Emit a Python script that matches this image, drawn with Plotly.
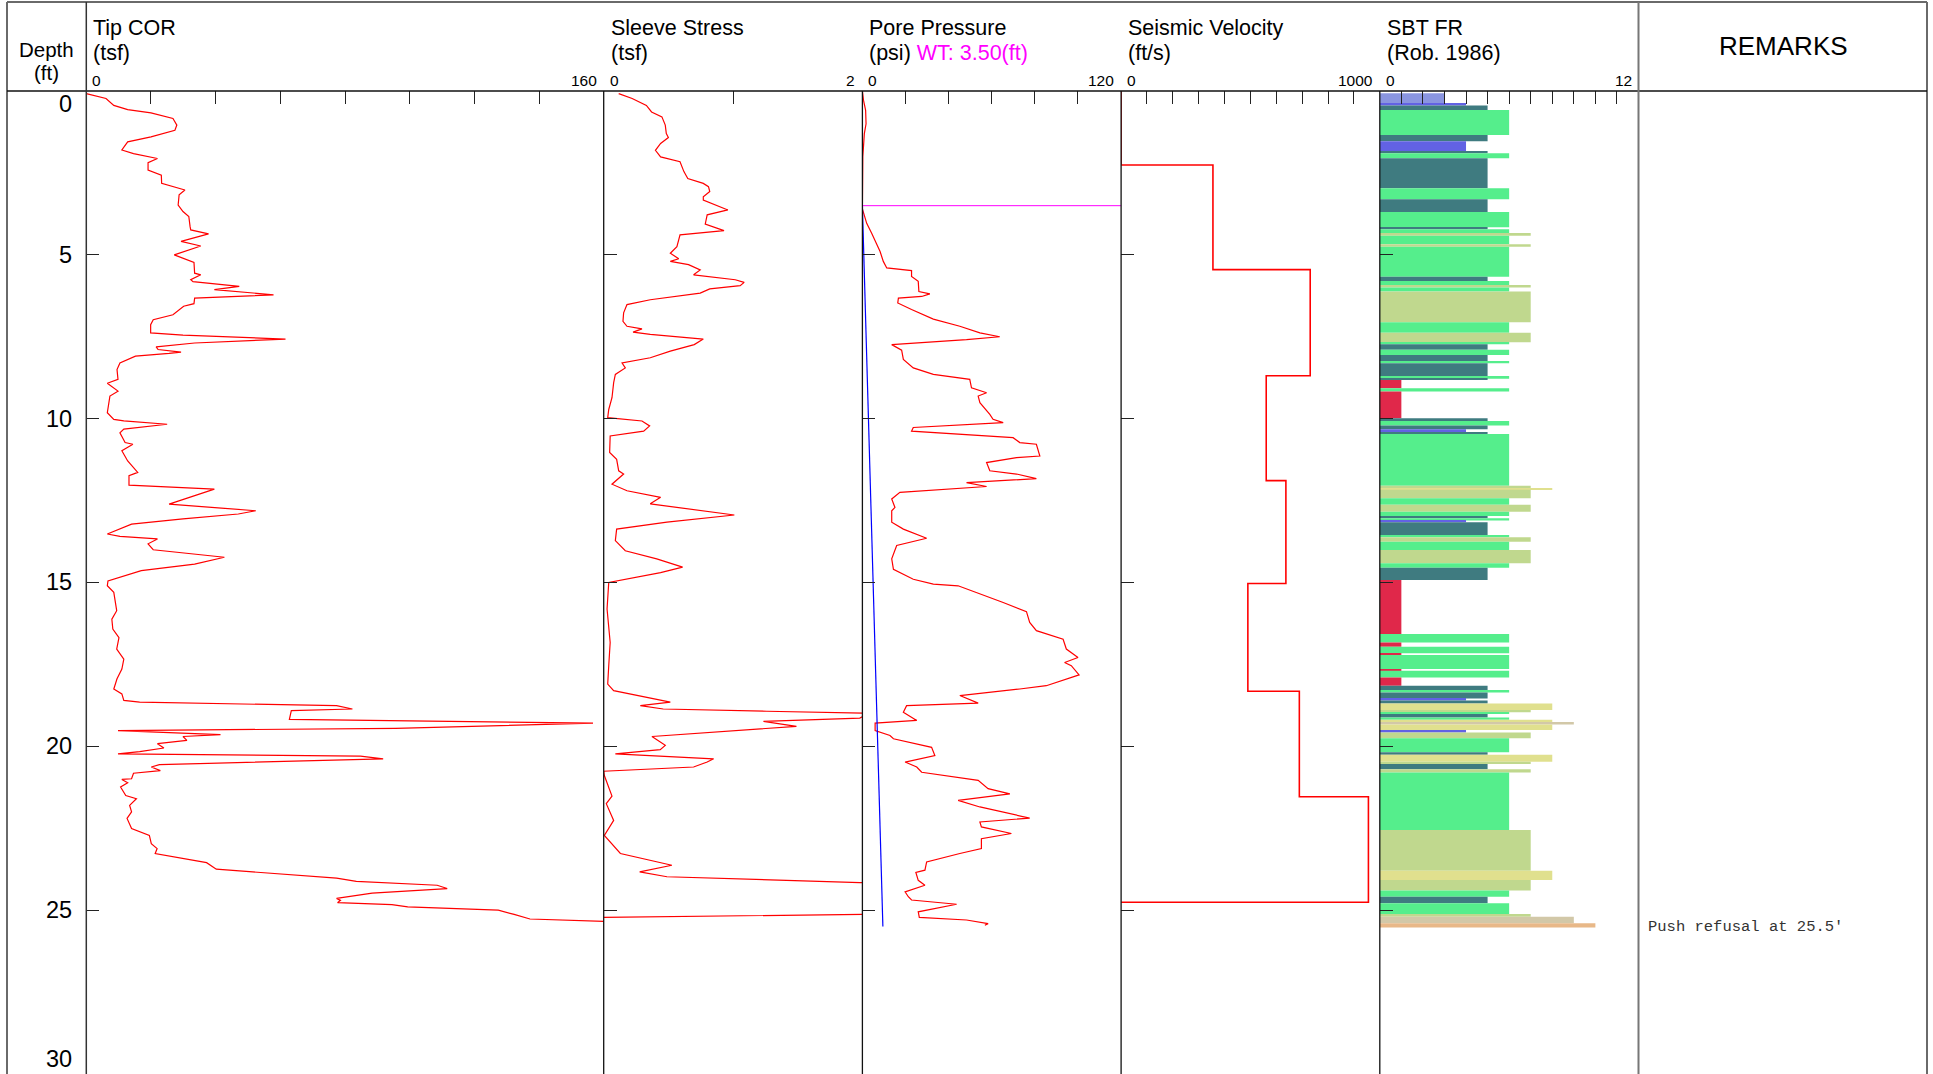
import plotly.graph_objects as go

# ---------------- CPT sounding data ----------------
depth_ticks = [0, 5, 10, 15, 20, 25, 30]

# Corrected tip resistance (tsf)
tip_depth = [0.08, 0.23, 0.44, 0.57, 0.67, 0.84, 1.04, 1.20, 1.40, 1.55, 1.80, 1.91, 2.06, 2.19, 2.41,
             2.57, 2.82, 3.02, 3.17, 3.48, 3.68, 3.83, 4.14, 4.24, 4.36, 4.59, 4.73, 5.00, 5.23, 5.56,
             5.61, 5.76, 5.82, 5.91, 5.96, 6.06, 6.22, 6.32, 6.49, 6.57, 6.83, 6.98, 7.13, 7.38, 7.45,
             7.57, 7.69, 7.81, 7.89, 7.97, 8.01, 8.09, 8.30, 8.50, 8.80, 8.92, 9.16, 9.31, 9.82, 10.02,
             10.07, 10.17, 10.32, 10.43, 10.73, 10.78, 10.98, 11.29, 11.64, 11.74, 12.03, 12.15, 12.61,
             12.81, 12.91, 13.06, 13.22, 13.52, 13.59, 13.67, 13.82, 14.00, 14.23, 14.44, 14.64, 14.95,
             15.10, 15.30, 15.86, 16.12, 16.42, 16.68, 17.03, 17.34, 17.64, 17.94, 18.25, 18.40, 18.60,
             18.65, 18.76, 18.86, 18.91, 19.18, 19.24, 19.29, 19.45, 19.52, 19.64, 19.70, 19.82, 19.92,
             20.05, 20.16, 20.23, 20.30, 20.38, 20.56, 20.63, 20.74, 20.82, 20.99, 21.01, 21.11, 21.24,
             21.50, 21.60, 21.80, 22.00, 22.20, 22.51, 22.72, 22.97, 23.12, 23.27, 23.55, 23.75, 24.02,
             24.12, 24.24, 24.34, 24.48, 24.64, 24.70, 24.77, 24.83, 24.90, 25.00, 25.13, 25.27, 25.36]
tip_qc = [0.0, 6.1, 8.5, 12.8, 20.0, 26.8, 28.0, 27.4, 20.0, 12.8, 11.0, 14.6, 22.0, 19.1, 19.1,
          23.2, 23.3, 30.5, 28.7, 28.4, 29.9, 31.7, 32.1, 32.3, 37.8, 29.3, 35.4, 27.2, 33.3, 33.5,
          35.4, 32.3, 33.0, 43.9, 47.3, 39.6, 57.9, 33.5, 33.3, 30.1, 26.8, 20.7, 19.9, 19.9, 29.9,
          61.6, 33.5, 21.6, 22.2, 29.3, 25.6, 15.2, 10.4, 9.5, 9.8, 6.5, 9.8, 7.3, 6.5, 8.5,
          11.6, 25.0, 11.6, 10.4, 12.0, 14.4, 11.0, 12.8, 15.9, 13.2, 13.2, 39.6, 25.6,
          52.4, 47.0, 29.9, 14.0, 6.5, 10.4, 22.0, 19.1, 20.7, 42.7, 33.5, 17.0, 6.7,
          6.5, 8.5, 9.4, 7.9, 8.2, 10.1, 9.4, 11.6, 11.0, 9.5, 8.5, 11.0, 11.6,
          16.5, 77.4, 82.3, 63.4, 62.8, 125.6, 156.7, 95.7, 9.8, 41.5, 29.9, 31.1, 22.0,
          24.0, 16.5, 9.8, 84.8, 91.8, 22.6, 20.1, 22.9, 14.6, 14.0, 11.0, 12.8, 10.6,
          12.2, 15.5, 13.4, 14.0, 12.6, 14.0, 19.5, 20.1, 21.9, 21.3, 37.2, 40.2, 77.4,
          83.5, 108.5, 111.6, 88.4, 77.4, 78.6, 77.7, 94.5, 99.4, 127.4, 132.3, 137.2, 165.0]

# Sleeve friction (tsf)
fs_depth = [0.08, 0.23, 0.44, 0.64, 0.79, 1.04, 1.30, 1.42, 1.60, 1.81, 2.01, 2.16, 2.46, 2.67, 2.82,
            2.92, 3.07, 3.23, 3.33, 3.63, 3.78, 4.06, 4.26, 4.39, 4.75, 4.95, 5.12, 5.20, 5.30, 5.46,
            5.61, 5.76, 5.84, 5.94, 6.04, 6.17, 6.37, 6.52, 6.77, 7.03, 7.18, 7.26, 7.36, 7.43, 7.57,
            7.74, 7.94, 8.14, 8.30, 8.45, 8.65, 8.90, 9.36, 9.72, 9.97, 10.07, 10.22, 10.38, 10.53,
            11.03, 11.24, 11.59, 11.69, 12.00, 12.20, 12.40, 12.60, 12.76, 12.94, 13.16, 13.37, 13.72,
            14.03, 14.28, 14.53, 14.70, 15.00, 15.81, 16.83, 17.54, 18.10, 18.30, 18.45, 18.65, 18.76,
            18.86, 18.93, 18.99, 19.14, 19.24, 19.39, 19.52, 19.70, 19.97, 20.10, 20.23, 20.38, 20.48,
            20.63, 20.76, 20.89, 21.52, 21.75, 22.26, 22.72, 23.27, 23.63, 23.83, 23.98, 24.16, 24.22,
            25.10, 25.22]
fs_tsf = [0.116, 0.22, 0.33, 0.37, 0.45, 0.476, 0.484, 0.50, 0.44, 0.40, 0.44, 0.59, 0.62, 0.65, 0.77,
          0.81, 0.82, 0.77, 0.77, 0.96, 0.80, 0.785, 0.93, 0.59, 0.566, 0.515, 0.58, 0.515, 0.656, 0.746,
          0.695, 1.017, 1.086, 1.055, 0.82, 0.746, 0.36, 0.18, 0.154, 0.149, 0.18, 0.296, 0.227, 0.36, 0.77,
          0.70, 0.515, 0.36, 0.142, 0.167, 0.09, 0.077, 0.064, 0.039, 0.031, 0.296, 0.355, 0.309, 0.05,
          0.046, 0.10, 0.116, 0.154, 0.064, 0.18, 0.44, 0.36, 0.67, 1.01, 0.489, 0.10, 0.09,
          0.167, 0.41, 0.61, 0.44, 0.039, 0.026, 0.05, 0.039, 0.031, 0.077, 0.27, 0.515, 0.283,
          0.46, 1.26, 2.05, 1.98, 1.235, 1.49, 1.0, 0.373, 0.476, 0.437, 0.09, 0.85, 0.80,
          0.695, 0.0, 0.005, 0.064, 0.02, 0.077, 0.005, 0.129, 0.527, 0.278, 0.489, 1.98, 2.6,
          2.6, 0.0]

# Pore pressure u2 (psi)
u_depth = [0.00, 0.28, 0.59, 1.00, 1.30, 1.60, 2.00, 3.60, 3.73, 4.04, 4.34, 4.65, 4.90, 5.20, 5.40,
           5.48, 5.66, 5.81, 6.12, 6.19, 6.27, 6.32, 6.47, 6.67, 6.96, 7.18, 7.38, 7.50, 7.59, 7.74,
           7.91, 8.19, 8.45, 8.65, 8.80, 9.06, 9.21, 9.31, 9.51, 9.87, 10.02, 10.12, 10.27, 10.38,
           10.58, 10.73, 10.78, 11.14, 11.19, 11.34, 11.59, 11.69, 11.83, 11.95, 12.07, 12.25, 12.45,
           12.71, 12.81, 13.16, 13.37, 13.65, 13.87, 14.28, 14.60, 14.90, 15.05, 15.10, 15.30, 15.61,
           15.89, 16.22, 16.47, 16.73, 17.03, 17.29, 17.44, 17.54, 17.82, 18.15, 18.25, 18.45, 18.68,
           18.76, 18.96, 19.21, 19.29, 19.52, 19.67, 19.77, 20.03, 20.28, 20.48, 20.63, 20.79, 21.04,
           21.29, 21.45, 21.65, 21.85, 22.19, 22.31, 22.46, 22.66, 22.82, 23.12, 23.27, 23.53, 23.78,
           23.85, 24.09, 24.24, 24.44, 24.59, 24.69, 24.82, 25.05, 25.22, 25.30, 25.41, 25.46]
u_psi = [0.0, 0.5, 1.5, 1.7, 0.9, 0.5, 0.2, 0.0, 0.5, 2.0, 4.3, 6.6, 8.2, 9.7, 11.3,
         22.8, 22.8, 25.9, 26.2, 31.3, 27.5, 16.7, 16.4, 22.8, 32.9, 45.2, 54.5, 63.7, 48.3, 13.6,
         18.2, 19.0, 23.6, 32.9, 49.8, 50.6, 57.6, 53.7, 54.5, 59.1, 60.6, 65.3, 23.6, 22.8,
         69.9, 73.0, 80.7, 82.3, 71.5, 57.6, 59.1, 71.5, 80.7, 48.3, 57.6, 17.4, 13.6,
         15.1, 13.6, 13.6, 19.0, 29.8, 15.9, 13.6, 14.4, 23.6, 32.9, 44.4, 52.9, 65.3,
         76.1, 77.6, 80.7, 93.1, 94.6, 100.0, 93.8, 96.9, 100.5, 85.3, 73.0, 45.2, 53.7,
         20.5, 19.0, 25.2, 5.9, 5.9, 12.8, 14.4, 32.1, 33.6, 19.8, 25.2, 27.5, 53.7,
         58.3, 68.4, 44.4, 54.5, 77.6, 54.5, 55.2, 69.1, 55.2, 55.2, 45.2, 29.8, 29.0,
         24.8, 25.9, 29.0, 19.8, 21.3, 22.8, 43.7, 25.9, 26.4, 48.3, 58.3, 56.8]

# Hydrostatic pressure line and water table
u0_depth = [3.5, 25.5]
u0_psi = [0.0, 9.5]
water_table = 3.5

# Seismic velocity intervals (ft/s)
vs_top = [0.0, 2.26, 5.45, 8.69, 11.89, 15.03, 18.32, 21.54]
vs_bottom = [2.26, 5.45, 8.69, 11.89, 15.03, 18.32, 21.54, 24.76]
vs_fts = [0, 355, 731, 561, 637, 490, 689, 956]

# Soil behaviour type (Robertson 1986) layers: top depth and zone, last bottom
sbt_top = [0.07, 0.38, 0.44, 0.58, 1.34, 1.53, 1.85, 1.90, 2.05, 2.97, 3.30, 3.69, 4.16, 4.22,
           4.36, 4.42, 4.68, 4.75, 5.67, 5.80, 5.92, 6.00, 6.12, 7.06, 7.38, 7.67, 7.73, 7.90,
           8.06, 8.24, 8.31, 8.70, 8.78, 8.82, 9.07, 9.17, 9.99, 10.07, 10.21, 10.32, 10.41, 10.47,
           12.05, 12.12, 12.17, 12.43, 12.63, 12.84, 12.97, 13.04, 13.11, 13.16, 13.55, 13.62,
           13.76, 14.01, 14.41, 14.55, 14.92, 16.57, 16.83, 16.96, 17.16, 17.21, 17.64, 17.69,
           17.90, 18.15, 18.28, 18.36, 18.54, 18.60, 18.69, 18.89, 18.96, 19.01, 19.12, 19.19,
           19.27, 19.33, 19.50, 19.58, 19.75, 20.18, 20.26, 20.47, 20.54, 20.70, 20.80, 22.55,
           23.80, 24.08, 24.40, 24.59, 24.79, 25.12, 25.20, 25.40]
sbt_zone = [3, 4, 5, 6, 5, 4, 5, 6, 5, 6, 5, 6, 5, 6,
            7, 6, 7, 6, 5, 6, 7, 6, 7, 6, 7, 6, 5, 6,
            5, 6, 5, 6, 5, 1, 6, 1, 5, 6, 5, 4, 5, 6,
            7, 8, 7, 6, 7, 6, 5, 6, 4, 5, 6, 7,
            6, 7, 6, 5, 1, 6, 1, 6, 1, 6, 1, 6,
            1, 5, 6, 5, 4, 5, 8, 7, 6, 5, 6, 8,
            9, 8, 4, 7, 6, 5, 8, 7, 5, 7, 6, 7,
            8, 7, 6, 5, 6, 7, 9, 10]
sbt_end = 25.53

zone_colors = {1: "#E0284A", 3: "#8A95E0", 4: "#6262E4", 5: "#3F7B80", 6: "#55EE8C",
               7: "#C0D88E", 8: "#E0E08E", 9: "#D2C8A8", 10: "#E8B888"}

remark_depth = 25.5
remark_text = "Push refusal at 25.5'"

# ---------------- layout geometry ----------------
W, H = 1933, 1074
HEADER_Y = 91
panel_left = [86.3, 603.7, 862.4, 1121.1, 1379.8]
panel_right = [603.7, 862.4, 1121.1, 1379.8, 1638.5]
panel_range = [[0, 160], [0, 2], [0, 120], [0, 1000], [0, 12]]
panel_xticks = [[20, 40, 60, 80, 100, 120, 140], [1], [20, 40, 60, 80, 100],
                [100, 200, 300, 400, 500, 600, 700, 800, 900], list(range(1, 12))]
panel_title = ["Tip COR", "Sleeve Stress", "Pore Pressure", "Seismic Velocity", "SBT FR"]
panel_unit = ["(tsf)", "(tsf)",
              "(psi) <span style='color:#FF00FF'>WT: 3.50(ft)</span>",
              "(ft/s)", "(Rob. 1986)"]
range_text = [["0", "160"], ["0", "2"], ["0", "120"], ["0", "1000"], ["0", "12"]]


def fx(x):
    return x / W


def fy(y):
    return 1 - y / H


FONT = "Liberation Sans, Arial, sans-serif"
fig = go.Figure()

RED = "#FF0000"
fig.add_trace(go.Scatter(x=tip_qc, y=tip_depth, mode="lines",
                         line=dict(color=RED, width=1.2), xaxis="x", yaxis="y"))
fig.add_trace(go.Scatter(x=fs_tsf, y=fs_depth, mode="lines",
                         line=dict(color=RED, width=1.2), xaxis="x2", yaxis="y2"))
fig.add_trace(go.Scatter(x=u_psi, y=u_depth, mode="lines",
                         line=dict(color=RED, width=1.2), xaxis="x3", yaxis="y3"))
fig.add_trace(go.Scatter(x=u0_psi, y=u0_depth, mode="lines",
                         line=dict(color="#0000FF", width=1.2), xaxis="x3", yaxis="y3"))
fig.add_trace(go.Scatter(x=list(panel_range[2]), y=[water_table, water_table], mode="lines",
                         line=dict(color="#FF00FF", width=1), xaxis="x3", yaxis="y3"))

# step profile for seismic velocity
vs_x, vs_y = [], []
for t, b, v in zip(vs_top, vs_bottom, vs_fts):
    vs_x += [v, v]
    vs_y += [t, b]
vs_x.append(0)
vs_y.append(vs_bottom[-1])
fig.add_trace(go.Scatter(x=vs_x, y=vs_y, mode="lines",
                         line=dict(color=RED, width=1.6), xaxis="x4", yaxis="y4"))

# SBT bars
sbt_bot = sbt_top[1:] + [sbt_end]
fig.add_trace(go.Bar(orientation="h",
                     x=sbt_zone,
                     y=[(t + b) / 2 for t, b in zip(sbt_top, sbt_bot)],
                     width=[b - t for t, b in zip(sbt_top, sbt_bot)],
                     base=0,
                     marker=dict(color=[zone_colors[z] for z in sbt_zone], line=dict(width=0)),
                     xaxis="x5", yaxis="y5"))

layout = dict(width=W, height=H, margin=dict(l=0, r=0, t=0, b=0),
              paper_bgcolor="white", plot_bgcolor="white", showlegend=False,
              font=dict(family=FONT, color="black"))

ydom = [0, fy(HEADER_Y)]
for i in range(5):
    k = "" if i == 0 else str(i + 1)
    layout["xaxis" + k] = dict(domain=[fx(panel_left[i]), fx(panel_right[i])],
                               range=panel_range[i], side="top", anchor="y" + k,
                               ticks="inside", ticklen=13, tickcolor="#222", tickwidth=1,
                               tickvals=panel_xticks[i], showticklabels=False,
                               showgrid=False, zeroline=False, showline=False, fixedrange=True)
    layout["yaxis" + k] = dict(domain=ydom, range=[30, 0], anchor="x" + k,
                               ticks="inside", ticklen=13, tickcolor="#222", tickwidth=1,
                               tickvals=depth_ticks[1:-1], showticklabels=False,
                               showgrid=False, zeroline=False, showline=False, fixedrange=True)
    if i > 0:
        layout["yaxis" + k]["matches"] = "y"

shapes = []
LINE = dict(color="#111", width=1.3)
GREY = dict(color="#6a6a6a", width=2)
# outer frame
shapes.append(dict(type="line", xref="paper", yref="paper", x0=fx(7), x1=fx(7), y0=fy(2), y1=0, line=GREY))
shapes.append(dict(type="line", xref="paper", yref="paper", x0=fx(7), x1=fx(1927), y0=fy(2), y1=fy(2), line=GREY))
shapes.append(dict(type="line", xref="paper", yref="paper", x0=fx(1927), x1=fx(1927), y0=fy(2), y1=0, line=GREY))
# header separator
shapes.append(dict(type="line", xref="paper", yref="paper", x0=fx(7), x1=fx(1927),
                   y0=fy(HEADER_Y), y1=fy(HEADER_Y), line=dict(color="#111", width=1.5)))
# full-height column separators
shapes.append(dict(type="line", xref="paper", yref="paper", x0=fx(86.3), x1=fx(86.3),
                   y0=fy(2), y1=0, line=dict(color="#333", width=1.5)))
shapes.append(dict(type="line", xref="paper", yref="paper", x0=fx(1638.5), x1=fx(1638.5),
                   y0=fy(2), y1=0, line=dict(color="#777", width=2)))
# panel separators
for xp in panel_left[1:]:
    shapes.append(dict(type="line", xref="paper", yref="paper", x0=fx(xp), x1=fx(xp),
                       y0=fy(HEADER_Y), y1=0, line=LINE))
layout["shapes"] = shapes

ann = []
ann.append(dict(text="Depth", x=fx(46.5), y=fy(49), xref="paper", yref="paper", showarrow=False,
                xanchor="center", yanchor="middle", font=dict(size=20.5)))
ann.append(dict(text="(ft)", x=fx(46.5), y=fy(72), xref="paper", yref="paper", showarrow=False,
                xanchor="center", yanchor="middle", font=dict(size=20.5)))
for i in range(5):
    ann.append(dict(text=panel_title[i], x=fx(panel_left[i] + 5), y=fy(28), xref="paper", yref="paper",
                    showarrow=False, xanchor="left", yanchor="middle", font=dict(size=21.5)))
    ann.append(dict(text=panel_unit[i], x=fx(panel_left[i] + 5), y=fy(53), xref="paper", yref="paper",
                    showarrow=False, xanchor="left", yanchor="middle", font=dict(size=21.5)))
    ann.append(dict(text=range_text[i][0], x=fx(panel_left[i] + 4), y=fy(80), xref="paper", yref="paper",
                    showarrow=False, xanchor="left", yanchor="middle", font=dict(size=15.5)))
    ann.append(dict(text=range_text[i][1], x=fx(panel_right[i] - 5), y=fy(80), xref="paper", yref="paper",
                    showarrow=False, xanchor="right", yanchor="middle", font=dict(size=15.5)))
ann.append(dict(text="REMARKS", x=fx(1783), y=fy(46), xref="paper", yref="paper", showarrow=False,
                xanchor="center", yanchor="middle", font=dict(size=26)))
ann.append(dict(text=remark_text, x=fx(1646), y=remark_depth, xref="paper", yref="y", showarrow=False,
                xanchor="left", yanchor="middle",
                font=dict(size=15.5, family="Liberation Mono, Courier New, monospace", color="#333")))
for d in depth_ticks:
    if d == depth_ticks[0]:
        ya, ys = "top", 2
    elif d == depth_ticks[-1]:
        ya, ys = "bottom", 0
    else:
        ya, ys = "middle", 0
    ann.append(dict(text=str(d), x=fx(74), y=d, xref="paper", yref="y", showarrow=False,
                    xanchor="right", yanchor=ya, yshift=ys, font=dict(size=23.5)))
layout["annotations"] = ann

fig.update_layout(**layout)
fig.write_html("out.html")
